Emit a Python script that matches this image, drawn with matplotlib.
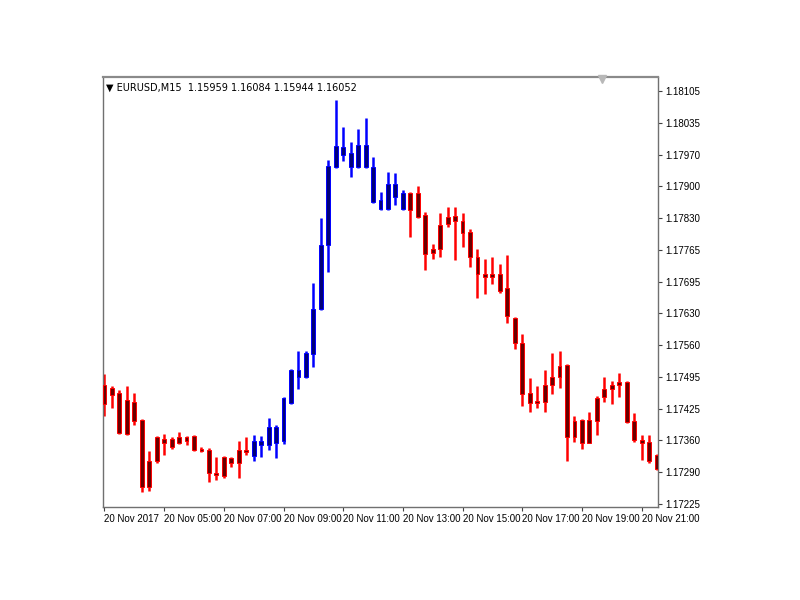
"""
# EURUSD M15 candle chart, MT4 style
"""

import numpy as np
import matplotlib
matplotlib.use('Agg')
import matplotlib.pyplot as plt

## Bar data (20 Nov 2017, M15 from 03:00)
opens= [1.17479,1.17473,1.17462,1.17447,1.17443,1.17405,1.17316,1.17367,1.17364,1.17364,
        1.17367,1.17367,1.17369,1.17343,1.17341,1.17292,1.17326,1.17324,1.17341,1.17341,
        1.17328,1.17350,1.17350,1.17356,1.17360,1.17441,1.17496,1.17496,1.17545,1.17641,
        1.17777,1.17943,1.17969,1.17943,1.17943,1.17943,1.17869,1.17854,1.17854,1.17879,
        1.17854,1.17888,1.17888,1.17841,1.17769,1.17820,1.17837,1.17839,1.17828,1.17805,
        1.17752,1.17716,1.17716,1.17716,1.17686,1.17622,1.17567,1.17462,1.17445,1.17479,
        1.17496,1.17518,1.17522,1.17401,1.17403,1.17403,1.17450,1.17469,1.17479,1.17484,
        1.17484,1.17401,1.17362,1.17358,1.17330]
highs= [1.17501,1.17477,1.17467,1.17477,1.17462,1.17407,1.17337,1.17369,1.17375,1.17367,
        1.17379,1.17369,1.17373,1.17347,1.17345,1.17326,1.17328,1.17326,1.17360,1.17367,
        1.17373,1.17369,1.17409,1.17394,1.17452,1.17513,1.17552,1.17550,1.17696,1.17835,
        1.17958,1.18086,1.18028,1.17996,1.18024,1.18048,1.17965,1.17890,1.17933,1.17931,
        1.17894,1.17890,1.17903,1.17848,1.17779,1.17845,1.17858,1.17858,1.17845,1.17811,
        1.17769,1.17748,1.17752,1.17737,1.17756,1.17624,1.17588,1.17494,1.17477,1.17511,
        1.17547,1.17550,1.17524,1.17413,1.17407,1.17422,1.17456,1.17496,1.17486,1.17505,
        1.17486,1.17418,1.17373,1.17371,1.17332]
lows=  [1.17413,1.17430,1.17375,1.17373,1.17394,1.17250,1.17252,1.17313,1.17330,1.17343,
        1.17352,1.17350,1.17337,1.17335,1.17271,1.17277,1.17281,1.17303,1.17281,1.17330,
        1.17316,1.17326,1.17339,1.17322,1.17352,1.17439,1.17471,1.17494,1.17516,1.17639,
        1.17720,1.17941,1.17956,1.17922,1.17941,1.17941,1.17867,1.17852,1.17852,1.17862,
        1.17852,1.17794,1.17835,1.17724,1.17748,1.17752,1.17816,1.17745,1.17773,1.17730,
        1.17664,1.17673,1.17694,1.17675,1.17611,1.17556,1.17433,1.17420,1.17430,1.17422,
        1.17460,1.17473,1.17316,1.17358,1.17343,1.17354,1.17373,1.17443,1.17439,1.17454,
        1.17397,1.17358,1.17318,1.17313,1.17297]
closes=[1.17437,1.17458,1.17377,1.17375,1.17401,1.17262,1.17262,1.17316,1.17356,1.17347,
        1.17354,1.17360,1.17339,1.17337,1.17292,1.17286,1.17284,1.17313,1.17313,1.17335,
        1.17360,1.17360,1.17390,1.17390,1.17450,1.17511,1.17511,1.17547,1.17641,1.17777,
        1.17945,1.17988,1.17986,1.17973,1.17990,1.17990,1.17943,1.17873,1.17907,1.17907,
        1.17888,1.17852,1.17837,1.17758,1.17760,1.17769,1.17822,1.17828,1.17803,1.17752,
        1.17716,1.17709,1.17709,1.17679,1.17626,1.17567,1.17460,1.17441,1.17441,1.17443,
        1.17479,1.17496,1.17367,1.17367,1.17356,1.17356,1.17401,1.17454,1.17469,1.17479,
        1.17399,1.17362,1.17354,1.17316,1.17299]
## trend colour of each bar: 1 = up (blue), 0 = down (red)
trend= [0]*20 + [1]*21 + [0]*34

ytick_vals= np.linspace(1.17225,1.18105,14)
ytick_lab= ['1.17225','1.17290','1.17360','1.17425','1.17495','1.17560','1.17630',
            '1.17695','1.17765','1.17830','1.17900','1.17970','1.18035','1.18105']
xtick_pos= [0,8,16,24,32,40,48,56,64,72]
xtick_lab= ['20 Nov 2017','20 Nov 05:00','20 Nov 07:00','20 Nov 09:00','20 Nov 11:00',
            '20 Nov 13:00','20 Nov 15:00','20 Nov 17:00','20 Nov 19:00','20 Nov 21:00']
title_txt= '\u25BC EURUSD,M15  1.15959 1.16084 1.15944 1.16052'

def main():
    plt.rcParams['font.family']= ['Liberation Sans','DejaVu Sans']
    fig= plt.figure(figsize=(8,6),dpi=100)
    ax= fig.add_axes([0.12875,0.155,0.69375,0.7167])

    o= np.array(opens); h= np.array(highs); l= np.array(lows); c= np.array(closes)
    x= np.arange(len(o))
    up= np.array(trend)==1

    wick_col= np.where(up,'#0000ff','#ff0000')
    body_col= np.where(up,'#00007a','#6a0000')

    ax.vlines(x,l,h,colors=wick_col,lw=1.8,zorder=2)
    bot= np.minimum(o,c)
    hgt= np.maximum(np.abs(c-o),0.00004)
    ax.bar(x,hgt,bottom=bot,width=0.52,color=body_col,edgecolor=wick_col,lw=0.7,zorder=3)

    ax.set_xlim(-0.2,74.2)
    ax.set_ylim(1.172186,1.181348)

    ax.yaxis.tick_right()
    ax.set_yticks(ytick_vals)
    ax.set_yticklabels(ytick_lab)
    ax.set_xticks(xtick_pos)
    ax.set_xticklabels(xtick_lab,ha='left')
    ax.tick_params(axis='both',labelsize=7,length=3,width=0.8,color='#404040',pad=2)
    for sp in ax.spines.values():
        sp.set_color('#707070')
        sp.set_linewidth(1.0)
    ax.spines['top'].set_linewidth(1.6)
    ax.spines['top'].set_color('#8a8a8a')

    ax.text(0.005,0.975,title_txt,transform=ax.transAxes,fontsize=7,ha='left',va='center',
            family=['DejaVu Sans'])
    ax.plot([0.899],[0.995],marker='v',ms=6,color='#b8b8b8',transform=ax.transAxes,
            clip_on=False,zorder=5)

    plt.savefig('out.png',dpi=100)
    return

if __name__=='__main__':
    main()
